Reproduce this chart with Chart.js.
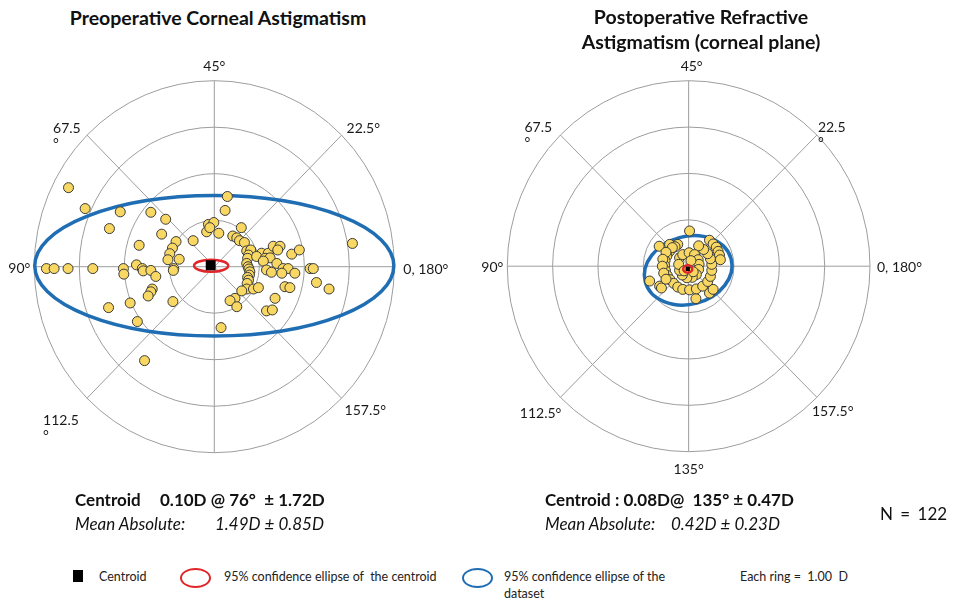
<!DOCTYPE html>
<html>
<head>
<meta charset="utf-8">
<script src="https://cdn.jsdelivr.net/npm/chart.js@4.4.1/dist/chart.umd.min.js"></script>
<style>
  body { margin: 0; width: 965px; height: 601px; background: #fff; position: relative; overflow: hidden;
         font-family: Lato, "Open Sans", sans-serif; color: #111; }
  .t { position: absolute; white-space: nowrap; line-height: 1; }
  .title { font-weight: bold; font-size: 19.5px; text-align: center; transform: translateX(-50%); }
  .big { font-size: 17px; }
  .leg { font-size: 12.5px; color: #222; }
  canvas { position: absolute; }
</style>
</head>
<body>
<canvas id="pre" width="480" height="450" style="left:0;top:40px;width:480px;height:450px"></canvas>
<canvas id="post" width="485" height="450" style="left:480px;top:40px;width:485px;height:450px"></canvas>

<div class="t title" style="left:218px;top:8px">Preoperative Corneal Astigmatism</div>
<div class="t title" style="left:701px;top:4px;line-height:25px">Postoperative Refractive<br>Astigmatism (corneal plane)</div>

<div class="t big" style="left:75px;top:491px;font-weight:bold">Centroid</div>
<div class="t big" style="left:160px;top:491px;font-weight:bold">0.10D @ 76°&nbsp; ± 1.72D</div>
<div class="t big" style="left:75px;top:515px;font-style:italic">Mean Absolute:</div>
<div class="t big" style="left:215px;top:515px;font-style:italic">1.49D ± 0.85D</div>

<div class="t big" style="left:545px;top:491px;font-weight:bold">Centroid : 0.08D@&nbsp; 135° ± 0.47D</div>
<div class="t big" style="left:545px;top:515px;font-style:italic">Mean Absolute:&nbsp;&nbsp;&nbsp; 0.42D ± 0.23D</div>
<div class="t big" style="left:880px;top:505px;word-spacing:3px">N = 122</div>

<div style="position:absolute;left:73px;top:570px;width:10px;height:12px;background:#000"></div>
<div class="t leg" style="left:99px;top:571px">Centroid</div>
<div style="position:absolute;left:180px;top:568px;width:27px;height:16px;border:2px solid #e0262a;border-radius:50%"></div>
<div class="t leg" style="left:224px;top:571px">95% confidence ellipse of&nbsp; the centroid</div>
<div style="position:absolute;left:462px;top:568px;width:27px;height:16px;border:2px solid #1f6db3;border-radius:50%"></div>
<div class="t leg" style="left:504px;top:571px">95% confidence ellipse of the</div>
<div class="t leg" style="left:504px;top:588px">dataset</div>
<div class="t leg" style="left:740px;top:571px">Each ring =&nbsp; 1.00&nbsp; D</div>

<script>
// double-angle plot, values in diopters (x = along 0/180, y = along 45)
const ringValues = [1, 2, 3, 4];
const spokeAngles = [0, 45, 90, 135, 180, 225, 270, 315];

const preAngles = [0, 45, 90, 135, 180, 225, 315];
const preAngleLabels = ["0, 180°", "22.5°", "45°", "67.5\n°", "90°", "112.5\n°", "157.5°"];
const postAngles = [0, 45, 90, 135, 180, 225, 270, 315];
const postAngleLabels = ["0, 180°", "22.5\n°", "45°", "67.5\n°", "90°", "112.5°", "135°", "157.5°"];

const prePoints = [
  [-3.24, 1.70], [-2.87, 1.25], [-2.09, 1.18], [-1.41, 1.17], [-2.33, 0.82], [-1.08, 1.02],
  [-1.17, 0.70], [-1.67, 0.46], [-0.85, 0.54], [-0.93, 0.40], [-0.99, 0.28], [-1.03, 0.15],
  [-0.78, 0.16], [-0.47, 0.56],
  [-3.73, -0.04], [-3.56, -0.04], [-3.25, -0.04], [-2.70, -0.04], [-2.02, -0.04], [-2.01, -0.16],
  [-1.73, 0.04], [-1.60, -0.04], [-1.58, -0.09], [-1.41, -0.08], [-1.30, -0.21], [-0.90, -0.04],
  [-0.91, -0.08],
  [-1.38, -0.48], [-1.41, -0.54], [-1.47, -0.63], [-1.87, -0.78], [-2.35, -0.88], [-1.71, -1.18],
  [-0.92, -0.75], [-1.55, -2.02],
  [0.15, -1.31], [0.29, 1.51], [0.24, 1.21], [-0.13, 0.91], [-0.01, 0.95], [-0.17, 0.75],
  [-0.10, 0.84], [0.10, 0.72],
  [0.60, 0.84], [0.41, 0.66], [0.50, 0.62], [0.56, 0.56], [0.67, 0.52], [0.72, 0.34], [0.81, 0.36],
  [0.76, 0.25], [0.74, 0.18], [0.72, 0.07], [0.75, 0.00], [0.77, -0.05], [0.79, -0.11], [0.78, -0.18],
  [0.74, -0.23], [0.76, -0.29], [0.73, -0.36], [0.72, -0.48], [0.87, -0.48], [0.98, -0.45],
  [0.61, -0.52], [0.46, -0.68], [0.35, -0.73], [0.50, -0.86],
  [1.05, 0.29], [1.20, 0.29], [0.94, 0.22], [1.13, 0.18], [1.24, 0.19], [1.09, 0.12], [1.39, 0.07],
  [1.16, -0.07], [1.27, -0.12], [1.53, -0.04], [1.64, -0.04], [1.50, -0.14], [1.79, -0.14],
  [1.31, 0.44], [1.46, 0.44], [1.41, 0.36], [1.72, 0.27], [1.89, 0.36], [2.13, -0.04], [2.20, -0.04],
  [3.07, 0.50], [2.27, -0.34], [2.55, -0.48], [1.57, -0.43], [1.68, -0.45], [1.35, -0.68],
  [1.16, -0.95], [1.29, -0.93]
];

const postPoints = [
  // outliers
  [0.02, 0.76], [-0.65, 0.43], [-0.42, 0.47], [-0.24, 0.47], [-0.86, -0.32], [-0.64, -0.43],
  [-0.60, -0.47], [0.16, -0.70], [0.46, -0.58], [0.54, -0.50],
  [0.46, 0.56], [0.54, 0.48], [0.61, 0.41], [0.65, 0.32], [0.68, 0.24], [0.70, 0.14],
  // middle band
  [-0.42, 0.32], [-0.48, 0.22], [-0.52, 0.12], [-0.53, 0.01], [-0.51, -0.10], [-0.47, -0.20],
  [-0.41, -0.29], [-0.33, -0.37], [-0.24, -0.45], [-0.13, -0.50], [0.02, -0.51], [0.17, -0.49],
  [0.31, -0.43], [0.42, -0.33], [0.48, -0.22], [0.51, -0.09], [0.51, 0.04], [0.48, 0.16],
  [0.42, 0.27], [0.33, 0.36], [0.22, 0.44], [-0.30, 0.42], [-0.36, 0.40],
  [-0.50, 0.30], [-0.57, 0.15], [-0.58, 0.00], [-0.55, -0.15], [-0.50, -0.28],
  // inner band
  [-0.20, 0.18], [-0.13, 0.25], [0.01, 0.29], [0.13, 0.25], [0.21, 0.14], [0.23, 0.04],
  [0.22, -0.07], [0.17, -0.18], [0.08, -0.24], [-0.04, -0.25], [-0.14, -0.19], [-0.20, -0.09],
  [-0.22, 0.04], [0.10, -0.12], [-0.10, -0.10], [0.05, 0.12]
];

const preCentroid = [-0.08, 0.03];
const postCentroid = [-0.02, -0.06];
// ellipses: [centre x, centre y, semi-axis x, semi-axis y, rotation deg]
const preCentroidEllipse = [-0.07, 0.02, 0.38, 0.13, 0];
const preDataEllipse = [0.00, 0.02, 3.99, 1.51, 0];
const postCentroidEllipse = [-0.02, -0.06, 0.10, 0.08, 0];
const postDataEllipse = [-0.01, -0.09, 0.98, 0.73, 15];

function drawEllipse(chart, e, color, width) {
    const xs = chart.scales.x, ys = chart.scales.y;
    const cx = xs.getPixelForValue(e[0]);
    const cy = ys.getPixelForValue(e[1]);
    const rx = Math.abs(xs.getPixelForValue(e[0] + e[2]) - cx);
    const ry = Math.abs(ys.getPixelForValue(e[1] + e[3]) - cy);
    const ctx = chart.ctx;
    ctx.save();
    ctx.strokeStyle = color;
    ctx.lineWidth = width;
    ctx.beginPath();
    ctx.ellipse(cx, cy, rx, ry, -e[4] * Math.PI / 180, 0, Math.PI * 2);
    ctx.stroke();
    ctx.restore();
}

const polarGrid = {
    id: "polarGrid",
    beforeDatasetsDraw(chart, args, opts) {
        const ctx = chart.ctx;
        const xs = chart.scales.x, ys = chart.scales.y;
        const cx = xs.getPixelForValue(0), cy = ys.getPixelForValue(0);
        const outer = ringValues[ringValues.length - 1];
        const kx = xs.getPixelForValue(1) - cx;
        const ky = cy - ys.getPixelForValue(1);
        ctx.save();
        ctx.strokeStyle = "#9d9d9d";
        ctx.lineWidth = 1;
        ringValues.forEach((r) => {
            ctx.beginPath();
            ctx.ellipse(cx, cy, r * kx, r * ky, 0, 0, Math.PI * 2);
            ctx.stroke();
        });
        spokeAngles.forEach((a) => {
            const t = a * Math.PI / 180;
            ctx.beginPath();
            ctx.moveTo(cx, cy);
            ctx.lineTo(cx + Math.cos(t) * outer * kx, cy - Math.sin(t) * outer * ky);
            ctx.stroke();
        });
        ctx.fillStyle = "#1a1a1a";
        ctx.font = "14px Lato, 'Open Sans', sans-serif";
        ctx.textBaseline = "middle";
        opts.angles.forEach((a, i) => {
            const t = a * Math.PI / 180;
            const ax = cx + Math.cos(t) * outer * kx;
            const ay = cy - Math.sin(t) * outer * ky;
            const o = opts.offsets[i];
            ctx.textAlign = o[2];
            opts.labels[i].split("\n").forEach((line, k) => {
                ctx.fillText(line, ax + o[0], ay + o[1] + k * 15);
            });
        });
        ctx.restore();
        drawEllipse(chart, opts.dataEllipse, "#1f6db3", 3.5);
    },
    afterDatasetDraw(chart, args, opts) {
        if (args.index === 0) {
            drawEllipse(chart, opts.centroidEllipse, "#e0262a", 2.5);
        }
    }
};

function makeChart(id, points, centroid, centroidSize, padding, grid) {
    return new Chart(document.getElementById(id), {
        type: "scatter",
        data: {
            datasets: [
                {
                    data: points.map((p) => ({ x: p[0], y: p[1] })),
                    backgroundColor: "#f8d862",
                    borderColor: "#3a3a3a",
                    borderWidth: 1,
                    pointRadius: 5,
                    order: 1
                },
                {
                    data: [{ x: centroid[0], y: centroid[1] }],
                    pointStyle: "rect",
                    pointRadius: centroidSize,
                    backgroundColor: "#000",
                    borderColor: "#000",
                    borderWidth: 0,
                    order: 0
                }
            ]
        },
        options: {
            responsive: false,
            animation: false,
            events: [],
            layout: { padding: padding },
            scales: {
                x: { type: "linear", min: -4, max: 4, display: false },
                y: { type: "linear", min: -4, max: 4, display: false }
            },
            plugins: {
                legend: { display: false },
                tooltip: { enabled: false },
                polarGrid: grid
            }
        },
        plugins: [polarGrid]
    });
}

makeChart("pre", prePoints, preCentroid, 7,
    { left: 34.3, right: 85.7, top: 40.7, bottom: 37.3 },
    {
        angles: preAngles,
        labels: preAngleLabels,
        offsets: [[9, 3, "left"], [5, -7, "left"], [0, -14, "center"], [-34, -7, "left"],
                  [-4, 2, "right"], [-44, 22, "left"], [3, 12, "left"]],
        dataEllipse: preDataEllipse,
        centroidEllipse: preCentroidEllipse
    });

makeChart("post", postPoints, postCentroid, 3,
    { left: 27.3, right: 95, top: 40.7, bottom: 38.3 },
    {
        angles: postAngles,
        labels: postAngleLabels,
        offsets: [[7, 1, "left"], [1, -8, "left"], [3, -14, "center"], [-36, -8, "left"],
                  [-4, 1, "right"], [1, 16, "right"], [0, 18, "center"], [-5, 14, "left"]],
        dataEllipse: postDataEllipse,
        centroidEllipse: postCentroidEllipse
    });
</script>
</body>
</html>
